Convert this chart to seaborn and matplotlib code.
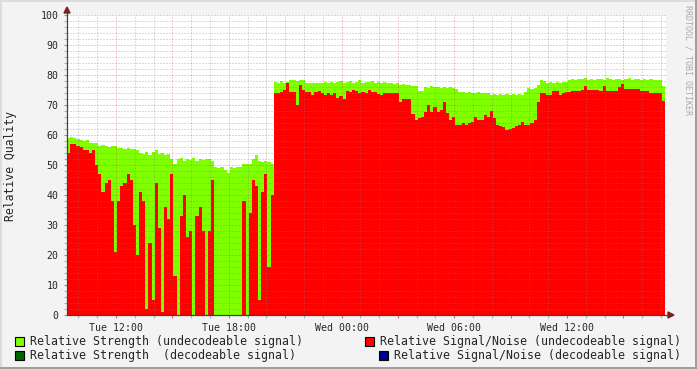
import numpy as np
import pandas as pd
import matplotlib
matplotlib.use("Agg")
import matplotlib.pyplot as plt
import seaborn as sns
from matplotlib.patches import Rectangle, Polygon
from matplotlib.lines import Line2D
from matplotlib.ticker import MultipleLocator, FuncFormatter

# ---------------- data ----------------
start_hour = 9.39          # hours since Tue 00:00 of the first sample
bin_minutes = 10           # sample spacing

strength = [
    59, 59.3, 59, 58.8, 58.3, 58, 58.3, 57.4, 57.2, 57.5,
    56.5, 56.8, 56.3, 56, 56.5, 56.2, 55.6, 55.8, 55.3, 55.6,
    55.4, 55.2, 55, 54, 53.8, 54.5, 53.5, 54.2, 55, 53.8,
    54, 53.5, 53.6, 52, 50.5, 52, 52.5, 51.5, 52, 51.8,
    52.3, 51.5, 52, 51.8, 52, 52, 51.5, 49.5, 49, 49.3,
    48.5, 47.5, 49.2, 49, 49.5, 49.2, 50.5, 50.3, 50.5, 52,
    53.3, 51.5, 51, 51.5, 51, 50.5, 77.8, 77.5, 78, 77.5,
    77.8, 78.3, 78.5, 78, 78.3, 78.3, 77.4, 77.5, 77.2, 77.5,
    77.4, 77.5, 77.8, 77.3, 77.6, 77.5, 77.8, 78, 77.4, 77.6,
    77.9, 77.5, 77.8, 78.2, 77.5, 77.8, 77.6, 78, 77.5, 77.8,
    77.3, 77.7, 77.4, 77.5, 77, 77.2, 76.8, 77, 76.6, 76.8,
    76.4, 76.2, 74.6, 74.8, 76, 75.8, 76.2, 75.9, 76, 75.7,
    76.1, 75.8, 76, 75.6, 75.5, 74.5, 74.2, 74, 74.3, 74.1,
    74, 74.2, 73.9, 74.1, 74, 73.5, 73.8, 73.4, 73.6, 73.5,
    73.7, 73.4, 73.6, 73.5, 73.8, 73.5, 74.5, 75.6, 75.5, 75.8,
    76.7, 78.3, 78, 77.5, 77.8, 77.4, 77.6, 77.5, 77.8, 77.6,
    78.5, 78.8, 78.4, 78.7, 78.6, 78.9, 78.5, 78.7, 78.4, 78.8,
    78.6, 78.5, 78.9, 78.6, 78.4, 78.7, 78.8, 78.5, 78.6, 78.9,
    78.4, 78.7, 78.6, 78.5, 78.8, 78.4, 78.6, 78.3, 78.5, 78.2,
    76.5,
]

snr = [
    54, 57, 57, 56.5, 56, 55, 55, 54, 55, 50,
    47, 41, 44, 45, 38, 21, 38, 43, 44, 47,
    45, 30, 20, 41, 38, 2, 24, 5, 44, 29,
    1, 36, 32, 47, 13, 0, 33, 40, 26, 28,
    0, 33, 36, 28, 0, 28, 45, 0, 0, 0,
    0, 0, 0, 0, 0, 0, 38, 0, 34, 45,
    43, 5, 41, 47, 16, 40, 74, 74, 74.5, 75,
    77.5, 74.4, 74.4, 70, 76.7, 75, 74.4, 74.4, 73.3, 74.5,
    74.8, 74, 73.5, 74, 73.5, 74, 72.5, 73, 72, 74.8,
    74.5, 75, 74.8, 74, 74.5, 74, 75, 74.4, 74.4, 73.7,
    73.5, 74, 74.1, 74, 73.9, 73.9, 71.1, 72, 72, 71.9,
    67, 65, 65.6, 66, 67.8, 70, 67.8, 69.2, 67.8, 68.3,
    70.9, 67.2, 65, 66, 63.3, 63.5, 64, 63.5, 64, 64.5,
    66, 65, 65, 66.7, 66, 68, 65.6, 63.3, 63, 62.8,
    61.7, 62, 62.2, 63, 63.3, 64.4, 63.3, 63.5, 64, 65,
    71, 73.9, 74, 73.3, 73.5, 74.7, 74.7, 73.5, 73.9, 74.2,
    74.4, 74.8, 74.8, 74.8, 75, 76.5, 75, 75, 75, 75,
    74.8, 76.5, 74.8, 74.8, 74.8, 74.8, 75.9, 77, 75.5, 75.2,
    75.2, 75.2, 75.2, 74.8, 74.8, 74.8, 74.1, 74.1, 74, 74.1,
    71.5,
]

tick_hours = [12, 18, 24, 30, 36]
tick_labels = ["Tue 12:00", "Tue 18:00", "Wed 00:00", "Wed 06:00", "Wed 12:00"]

legend_labels = [
    "Relative Strength (undecodeable signal)",
    "Relative Strength  (decodeable signal)",
    "Relative Signal/Noise (undecodeable signal)",
    "Relative Signal/Noise (decodeable signal)",
]
legend_colors = ["#80FF00", "#006600", "#FF0000", "#000088"]

# ---------------- figure ----------------
sns.set_style("white")
plt.rcParams["font.family"] = ["DejaVu Sans Mono"]

W, H = 697, 369
BACK = "#F3F3F3"
fig = plt.figure(figsize=(W / 100, H / 100), dpi=100, facecolor=BACK)


def px(x, y):
    return (x / W, 1 - y / H)


ax = fig.add_axes([67 / W, (H - 315) / H, 599 / W, 300 / H])
ax.set_facecolor("white")

n = len(strength)
edges = (start_hour + np.arange(n + 1) * bin_minutes / 60.0).tolist()
centers = [(a + b) / 2 for a, b in zip(edges[:-1], edges[1:])]
df = pd.DataFrame({"hour": centers, "strength": strength, "snr": snr})

sns.histplot(data=df, x="hour", weights="strength", bins=edges, element="step",
             fill=True, color=legend_colors[0], alpha=1, linewidth=0, ax=ax)
sns.histplot(data=df, x="hour", weights="snr", bins=edges, element="step",
             fill=True, color=legend_colors[2], alpha=1, linewidth=0, ax=ax)

hours_per_px = 1 / 18.79
ax.set_xlim(start_hour, start_hour + 599 * hours_per_px)
ax.set_ylim(0, 100)
ax.set_xlabel("")
ax.set_ylabel("")

label_map = dict(zip(tick_hours, tick_labels))
ax.xaxis.set_major_locator(MultipleLocator(3))
ax.xaxis.set_minor_locator(MultipleLocator(1))
ax.xaxis.set_major_formatter(FuncFormatter(lambda v, p: label_map.get(int(round(v)), "")))
ax.yaxis.set_major_locator(MultipleLocator(10))
ax.yaxis.set_minor_locator(MultipleLocator(2))
ax.yaxis.set_major_formatter(FuncFormatter(lambda v, p: f"{int(round(v))}"))

ax.set_axisbelow(False)
ax.grid(which="minor", color="#7F7F7F", alpha=0.55, linestyle=(0, (1, 2)), linewidth=0.72)
ax.grid(which="major", color="#C83030", alpha=0.5, linestyle=(0, (1, 2)), linewidth=0.72)

ax.tick_params(which="major", length=2.5, width=0.8, color="#E07070", labelsize=7.1,
               pad=3.5, direction="out")
ax.tick_params(which="minor", length=2, width=0.8, color="#B0B0B0", direction="out")
ax.tick_params(axis="both", which="both", bottom=True, left=True, top=False, right=False)
for s in ax.spines.values():
    s.set_visible(False)

# axis lines and arrows
AXIS = "#2C4D43"
ARROW = "#7F1F1F"
fig.add_artist(Line2D([px(67, 0)[0]] * 2, [px(0, 315)[1], px(0, 11)[1]], color=AXIS, lw=0.9))
fig.add_artist(Line2D([px(67, 0)[0], px(669, 0)[0]], [px(0, 315)[1]] * 2, color=AXIS, lw=0.9))
fig.add_artist(Polygon([px(64, 13), px(70, 13), px(67, 7)], closed=True, color=ARROW))
fig.add_artist(Polygon([px(668, 312), px(668, 318), px(674, 315)], closed=True, color=ARROW))

# y label and watermark
fig.text(*px(11, 166), "Relative Quality", rotation=90, ha="center", va="center", fontsize=8.3)
fig.text(*px(688, 60), "RRDTOOL / TOBI OETIKER", rotation=270, ha="center", va="center",
         fontsize=6, color="#AAAAAA")

# legend
legend_pos = [(15, 341), (15, 355), (365, 341), (379, 355)]
for (lx, ly), lab, col in zip(legend_pos, legend_labels, legend_colors):
    fig.add_artist(Rectangle(px(lx, ly + 4.5), 9 / W, 9 / H, transform=fig.transFigure,
                             facecolor=col, edgecolor="black", linewidth=0.8))
    fig.text(*px(lx + 15, ly), lab, ha="left", va="center", fontsize=8.4)

# frame shading
fig.add_artist(Rectangle((0, 0), 1, 2 / H, transform=fig.transFigure, color="#9E9E9E", lw=0))
fig.add_artist(Rectangle((1 - 2 / W, 0), 2 / W, 1, transform=fig.transFigure, color="#9E9E9E", lw=0))
fig.add_artist(Rectangle((0, 1 - 2 / H), 1 - 2 / W, 2 / H, transform=fig.transFigure, color="#DCDCDC", lw=0))
fig.add_artist(Rectangle((0, 2 / H), 2 / W, 1 - 2 / H, transform=fig.transFigure, color="#DCDCDC", lw=0))

fig.savefig("out.png", dpi=100, facecolor=BACK)
